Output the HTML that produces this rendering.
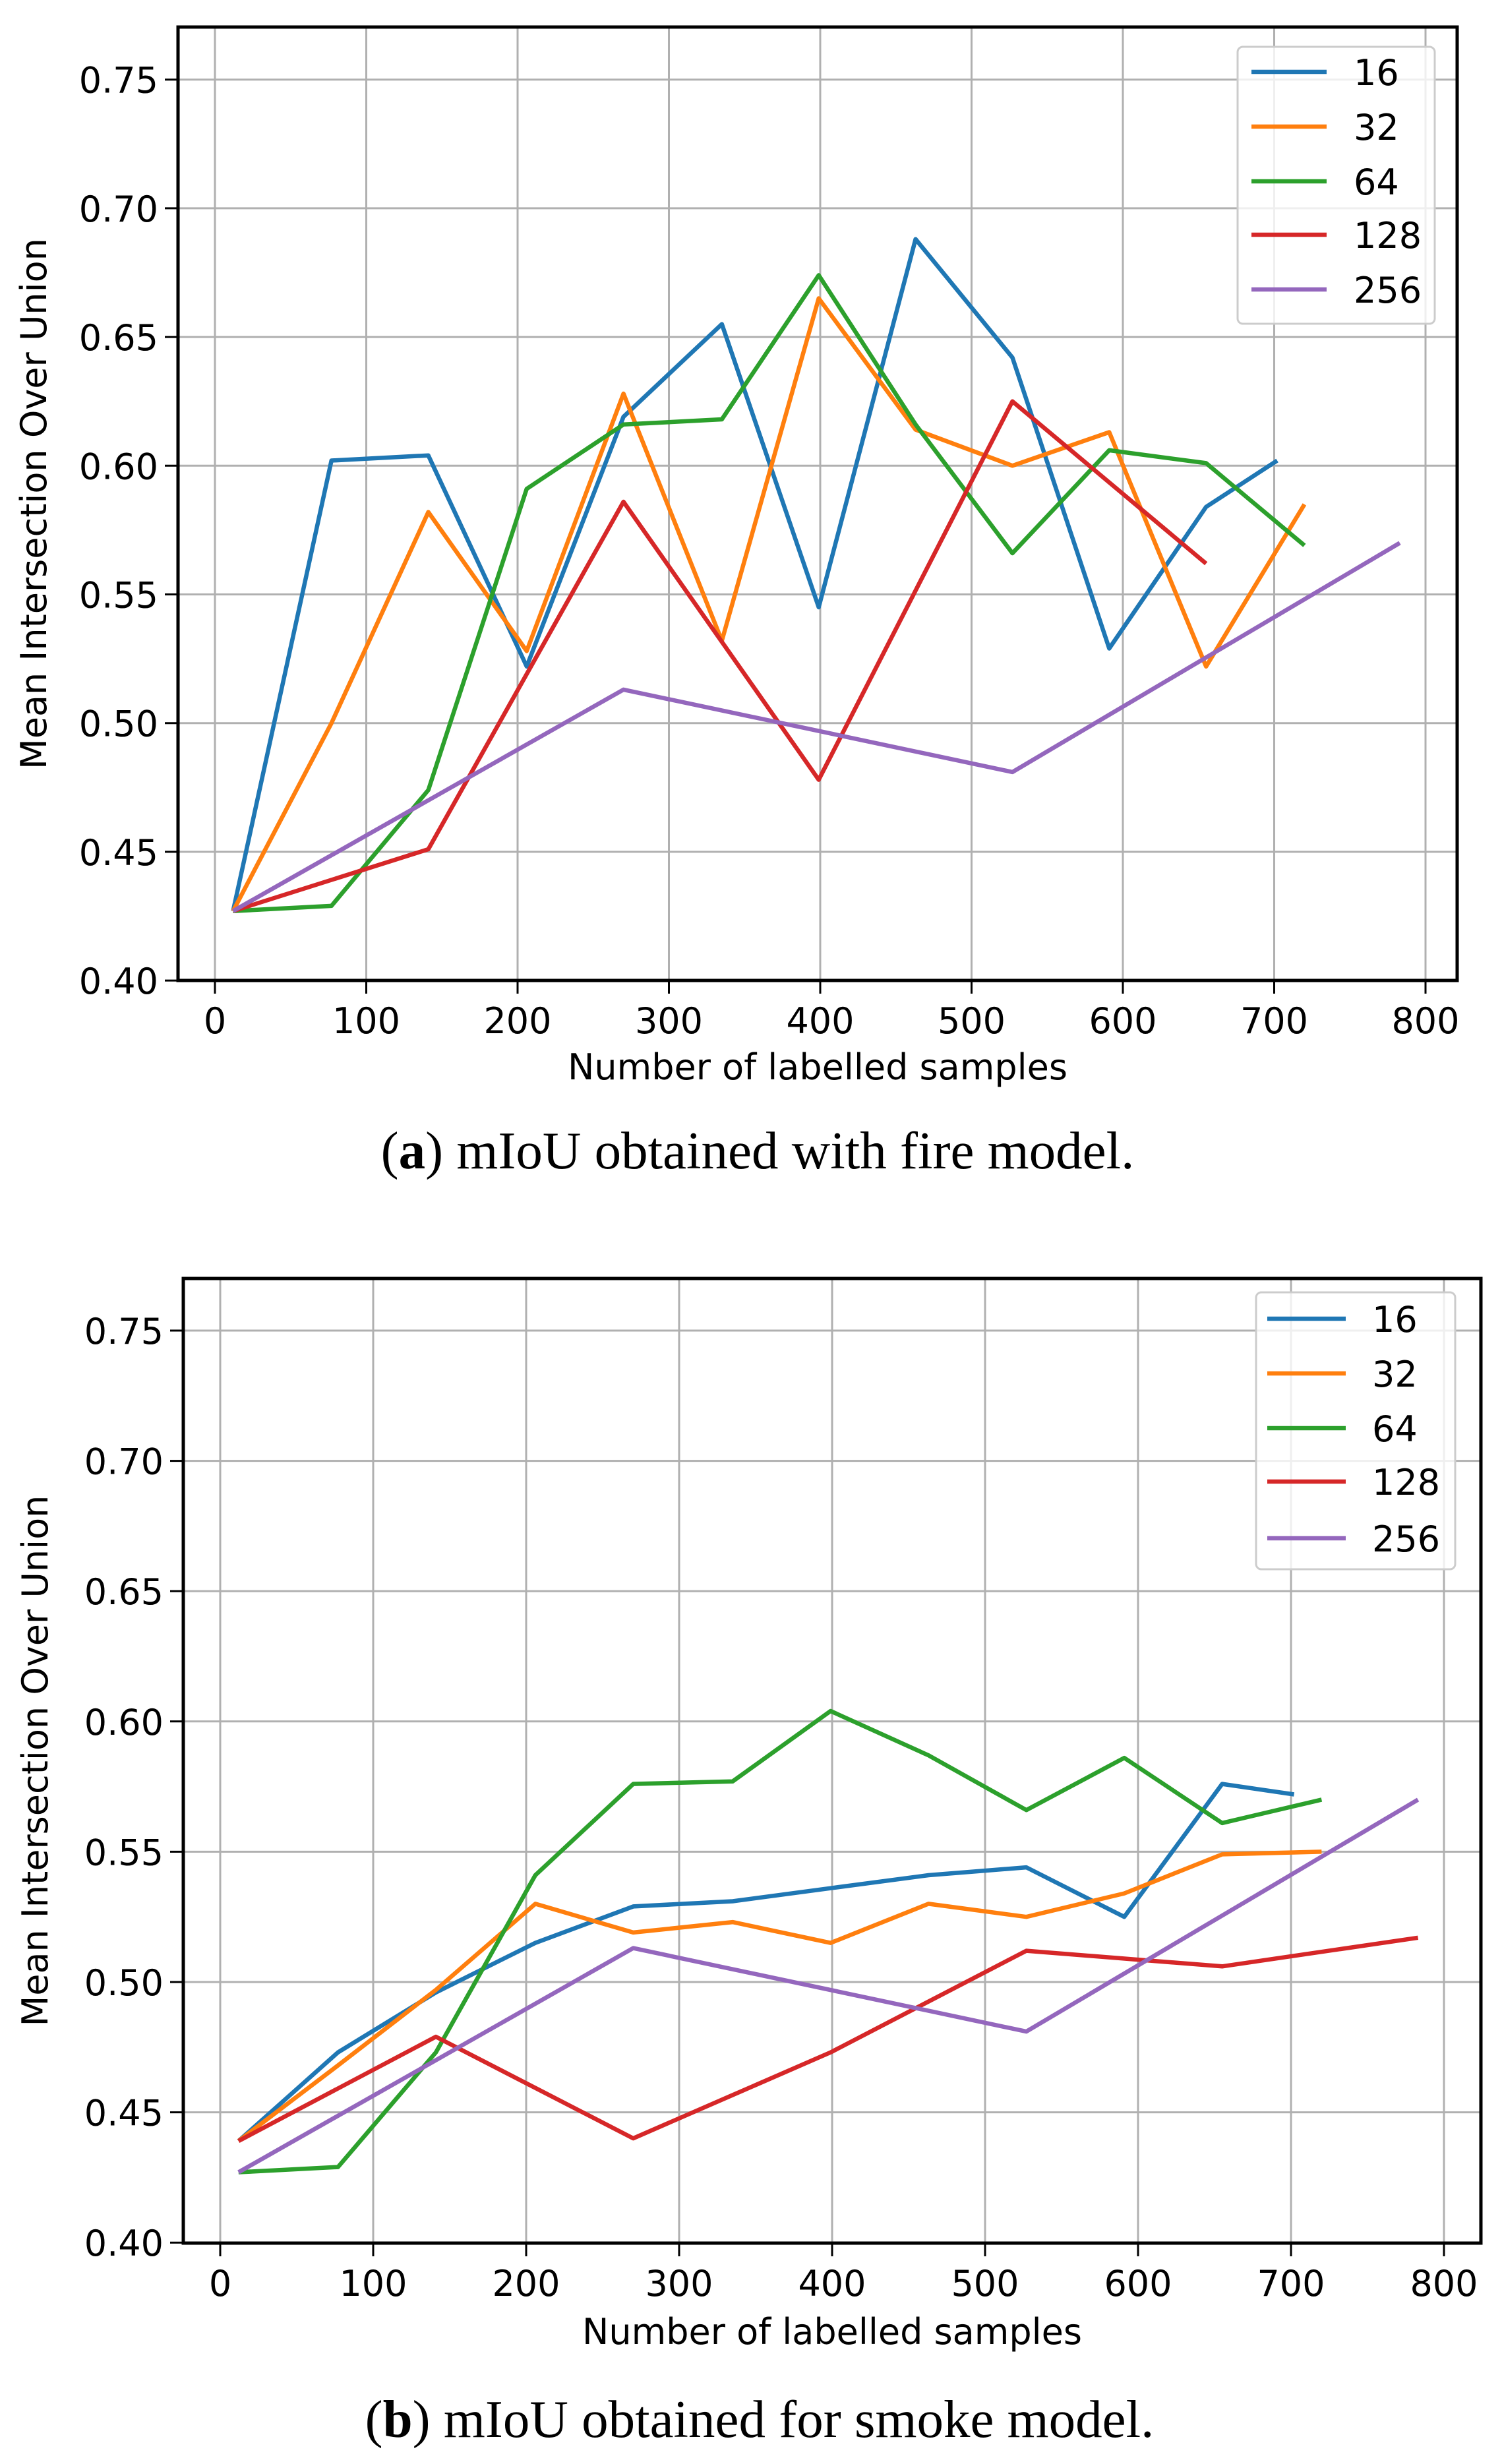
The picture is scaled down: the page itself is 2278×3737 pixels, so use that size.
<!DOCTYPE html>
<html><head><meta charset="utf-8"><style>
html,body{margin:0;padding:0;background:#fff;}
svg{display:block;}
text{font-family:"DejaVu Sans","Liberation Sans",sans-serif;fill:#000;}
.cap{font-family:"Liberation Serif",serif;}
</style></head><body>
<svg id="s" width="2278" height="3737" xmlns="http://www.w3.org/2000/svg"></svg>
<script>
const S=document.getElementById('s');let h='';
const C=['#1f77b4','#ff7f0e','#2ca02c','#d62728','#9467bd'];
const X=[12,77,141,206,270,335,399,463,527,591,655];
function z(a,b){return a.map((v,i)=>[X[i],v]);}
function chart(o,series){
 const L=o.L,R=o.R,T=o.T,B=o.B;
 const fx=v=>o.x0+v*o.sx, fy=v=>o.y75+(0.75-v)/0.05*o.sy;
 h+=`<rect x="${L}" y="${T}" width="${R-L}" height="${B-T}" fill="#fff"/>`;
 for(let k=0;k<=8;k++){const x=fx(k*100);h+=`<line x1="${x}" y1="${T}" x2="${x}" y2="${B}" stroke="#b0b0b0" stroke-width="3"/><line x1="${x}" y1="${B}" x2="${x}" y2="${B+20}" stroke="#000" stroke-width="3"/><text x="${x}" y="${B+80}" font-size="54" text-anchor="middle">${k*100}</text>`;}
 for(let k=0;k<=7;k++){const v=0.40+k*0.05,y=fy(v);h+=`<line x1="${L}" y1="${y}" x2="${R}" y2="${y}" stroke="#b0b0b0" stroke-width="3"/><line x1="${L-20}" y1="${y}" x2="${L}" y2="${y}" stroke="#000" stroke-width="3"/><text x="${L-30}" y="${y+20}" font-size="54" text-anchor="end">${v.toFixed(2)}</text>`;}
 series.forEach((s,i)=>{h+=`<polyline fill="none" stroke="${C[i]}" stroke-width="6.5" stroke-linejoin="round" points="${s.map(p=>fx(p[0]).toFixed(1)+','+fy(p[1]).toFixed(1)).join(' ')}"/>`;});
 h+=`<rect x="${L}" y="${T}" width="${R-L}" height="${B-T}" fill="none" stroke="#000" stroke-width="5"/>`;
 const g=o.leg;h+=`<rect x="${g.x}" y="${g.y}" width="${g.w}" height="${g.h}" rx="8" fill="#fff" fill-opacity="0.8" stroke="#ccc" stroke-width="3"/>`;
 ['16','32','64','128','256'].forEach((t,i)=>{const y=g.ys[i];h+=`<line x1="${g.l1}" y1="${y}" x2="${g.l2}" y2="${y}" stroke="${C[i]}" stroke-width="6.5"/><text x="${g.tx}" y="${y+20}" font-size="54">${t}</text>`;});
 h+=`<text x="${(L+R)/2}" y="${o.xl}" font-size="54" text-anchor="middle">Number of labelled samples</text>`;
 h+=`<text transform="translate(${o.yl},${(T+B)/2}) rotate(-90)" font-size="54" text-anchor="middle">Mean Intersection Over Union</text>`;
 h+=`<text class="cap" x="${o.cx}" y="${o.cy}" font-size="81" text-anchor="middle">${o.cap}</text>`;
}
chart({L:270,R:2210,T:41,B:1487,x0:326,sx:2.295,y75:120.7,sy:195.2,
 leg:{x:1877,y:71,w:299,h:420,ys:[109,192,275,356,439],l1:1898,l2:2012,tx:2053},
 xl:1637,yl:70,cx:1149,cy:1772,cap:'(<tspan font-weight="bold">a</tspan>) mIoU obtained with fire model.'},
 [z([.427,.602,.604,.522,.619,.655,.545,.688,.642,.529,.584]).concat([[702,.602]]),
  z([.427,.50,.582,.528,.628,.532,.665,.614,.600,.613,.522]).concat([[720,.585]]),
  z([.427,.429,.474,.591,.616,.618,.674,.616,.566,.606,.601]).concat([[720,.569]]),
  [[12,.427],[141,.451],[270,.586],[399,.478],[527,.625],[655,.562]],
  [[12,.427],[270,.513],[527,.481],[783,.570]]]);
chart({L:278,R:2246,T:1939,B:3402,x0:334,sx:2.32,y75:2018,sy:197.6,
 leg:{x:1905,y:1960,w:302,h:420,ys:[2000,2083,2166,2247,2333],l1:1922,l2:2041,tx:2081},
 xl:3555,yl:72,cx:1152,cy:3696,cap:'(<tspan font-weight="bold">b</tspan>) mIoU obtained for smoke model.'},
 [z([.439,.473,.496,.515,.529,.531,.536,.541,.544,.525,.576]).concat([[702,.572]]),
  z([.439,.468,.497,.530,.519,.523,.515,.530,.525,.534,.549]).concat([[720,.550]]),
  z([.427,.429,.473,.541,.576,.577,.604,.587,.566,.586,.561]).concat([[720,.570]]),
  [[12,.439],[141,.479],[270,.440],[399,.473],[527,.512],[655,.506],[783,.517]],
  [[12,.427],[270,.513],[527,.481],[783,.570]]]);
S.innerHTML=h;
</script>
</body></html>
